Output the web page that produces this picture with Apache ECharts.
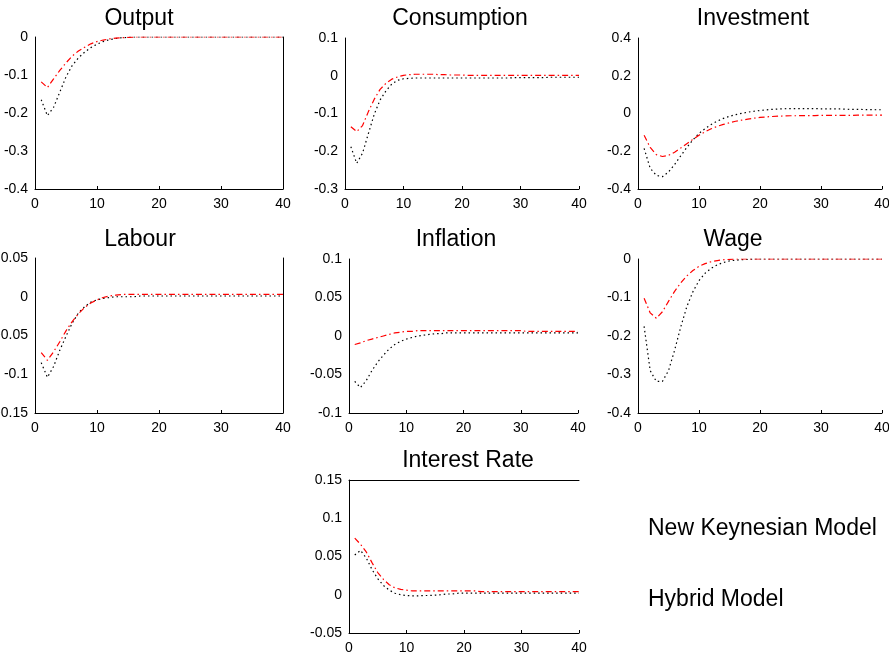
<!DOCTYPE html>
<html>
<head>
<meta charset="utf-8">
<script src="https://cdn.jsdelivr.net/npm/echarts@6/dist/echarts.min.js"></script>
<style>html,body{margin:0;padding:0;background:#fff}#c{width:889px;height:661px}</style>
</head>
<body>
<div id="c"></div>
<script>
// Periods 1..40
const periods = [1,2,3,4,5,6,7,8,9,10,11,12,13,14,15,16,17,18,19,20,21,22,23,24,25,26,27,28,29,30,31,32,33,34,35,36,37,38,39,40];
const seriesNames = ['New Keynesian Model', 'Hybrid Model'];
const panelTitles = ['Output','Consumption','Investment','Labour','Inflation','Wage','Interest Rate'];
const xTicks = [0,10,20,30,40];

const outputNK = [-0.165,-0.207,-0.185,-0.145,-0.105,-0.075,-0.055,-0.04,-0.028,-0.019,-0.012,-0.007,-0.004,-0.002,-0.001,0,0,0,0,0,0,0,0,0,0,0,0,0,0,0,0,0,0,0,0,0,0,0,0,0];
const outputHY = [-0.118,-0.133,-0.11,-0.088,-0.068,-0.05,-0.037,-0.027,-0.018,-0.012,-0.008,-0.005,-0.003,-0.002,-0.001,0,0,0,0,0,0,0,0,0,0,0,0,0,0,0,0,0,0,0,0,0,0,0,0,0];

const consNK = [-0.188,-0.232,-0.205,-0.153,-0.102,-0.064,-0.04,-0.022,-0.012,-0.008,-0.007,-0.006,-0.006,-0.006,-0.006,-0.006,-0.006,-0.006,-0.006,-0.006,-0.006,-0.006,-0.006,-0.006,-0.006,-0.006,-0.006,-0.006,-0.005,-0.005,-0.005,-0.005,-0.005,-0.005,-0.004,-0.004,-0.004,-0.004,-0.004,-0.004];
const consHY = [-0.135,-0.148,-0.132,-0.095,-0.062,-0.036,-0.02,-0.009,-0.003,0.001,0.003,0.004,0.004,0.004,0.004,0.003,0.003,0.002,0.002,0.002,0.001,0.001,0.001,0.001,0.001,0.001,0.001,0.001,0.001,0.001,0.001,0.001,0.001,0.001,0.001,0.001,0.001,0.001,0.001,0.001];

const invNK = [-0.185,-0.29,-0.328,-0.335,-0.31,-0.27,-0.225,-0.18,-0.14,-0.105,-0.08,-0.058,-0.04,-0.026,-0.015,-0.006,0.001,0.007,0.012,0.016,0.019,0.022,0.024,0.025,0.026,0.026,0.026,0.026,0.026,0.025,0.025,0.024,0.024,0.023,0.022,0.022,0.021,0.021,0.02,0.02];
const invHY = [-0.115,-0.18,-0.218,-0.228,-0.222,-0.205,-0.183,-0.16,-0.137,-0.115,-0.097,-0.081,-0.068,-0.058,-0.049,-0.041,-0.035,-0.03,-0.025,-0.021,-0.018,-0.016,-0.014,-0.013,-0.012,-0.012,-0.011,-0.011,-0.011,-0.01,-0.01,-0.01,-0.01,-0.01,-0.01,-0.009,-0.009,-0.009,-0.009,-0.009];

const labNK = [-0.085,-0.104,-0.09,-0.069,-0.051,-0.034,-0.021,-0.013,-0.007,-0.004,-0.002,-0.001,0,0,0,0,0.001,0.001,0.001,0.001,0.001,0.001,0.001,0.001,0.001,0.001,0.001,0.001,0.001,0.001,0.001,0.001,0.001,0.001,0.001,0.001,0.001,0.001,0.001,0.001];
const labHY = [-0.072,-0.082,-0.071,-0.058,-0.044,-0.032,-0.022,-0.014,-0.008,-0.004,-0.001,0.001,0.002,0.003,0.003,0.003,0.003,0.003,0.003,0.003,0.003,0.003,0.003,0.003,0.003,0.003,0.003,0.003,0.003,0.003,0.003,0.003,0.003,0.003,0.003,0.003,0.003,0.003,0.003,0.003];

const inflNK = [-0.059,-0.067,-0.058,-0.045,-0.034,-0.025,-0.017,-0.011,-0.007,-0.004,-0.002,0,0.001,0.002,0.003,0.003,0.004,0.004,0.004,0.004,0.004,0.004,0.004,0.004,0.004,0.004,0.004,0.004,0.004,0.004,0.004,0.004,0.004,0.004,0.004,0.004,0.004,0.004,0.004,0.004];
const inflHY = [-0.011,-0.009,-0.006,-0.004,-0.002,0,0.002,0.004,0.005,0.006,0.006,0.007,0.007,0.007,0.007,0.007,0.007,0.007,0.007,0.007,0.007,0.007,0.007,0.007,0.007,0.007,0.007,0.007,0.007,0.007,0.006,0.006,0.006,0.006,0.006,0.006,0.006,0.006,0.006,0.006];

const wageNK = [-0.175,-0.29,-0.318,-0.318,-0.29,-0.237,-0.177,-0.124,-0.085,-0.056,-0.037,-0.024,-0.015,-0.009,-0.005,-0.003,-0.002,-0.001,0,0,0,0,0,0,0,0,0,0,0,0,0,0,0,0,0,0,0,0,0,0];
const wageHY = [-0.102,-0.14,-0.154,-0.137,-0.11,-0.084,-0.062,-0.044,-0.03,-0.019,-0.012,-0.007,-0.004,-0.002,-0.001,0,0,0,0,0,0,0,0,0,0,0,0,0,0,0,0,0,0,0,0,0,0,0,0,0];

const rateNK = [0.052,0.058,0.048,0.033,0.021,0.012,0.006,0.002,0,-0.001,-0.0015,-0.0015,-0.001,-0.001,-0.0005,0,0.001,0.001,0.002,0.002,0.002,0.002,0.002,0.002,0.002,0.002,0.002,0.002,0.002,0.002,0.002,0.002,0.002,0.002,0.002,0.002,0.002,0.002,0.002,0.002];
const rateHY = [0.074,0.066,0.056,0.042,0.029,0.02,0.013,0.009,0.007,0.006,0.005,0.005,0.005,0.005,0.005,0.005,0.005,0.005,0.005,0.005,0.005,0.005,0.004,0.004,0.004,0.004,0.004,0.004,0.004,0.004,0.004,0.004,0.004,0.004,0.004,0.004,0.004,0.004,0.004,0.004];

const yRanges = [
  [-0.4, 0, 0.1],
  [-0.3, 0.1, 0.1],
  [-0.4, 0.4, 0.2],
  [-0.15, 0.05, 0.05],
  [-0.1, 0.1, 0.05],
  [-0.4, 0, 0.1],
  [-0.05, 0.15, 0.05]
];
const panelNK = [outputNK, consNK, invNK, labNK, inflNK, wageNK, rateNK];
const panelHY = [outputHY, consHY, invHY, labHY, inflHY, wageHY, rateHY];

// layout (px)
const grids = [
  {left: 35, top: 37, width: 248, height: 152},
  {left: 345, top: 38, width: 234, height: 151},
  {left: 638, top: 38, width: 244, height: 151},
  {left: 35, top: 258, width: 248, height: 155},
  {left: 349, top: 259, width: 229, height: 154},
  {left: 638, top: 259, width: 244, height: 154},
  {left: 349, top: 480, width: 230, height: 153}
];
const titleCenters = [134, 455, 748, 135, 451, 728, 463];
const titleTops = [2, 2, 2, 223, 223, 223, 444];
const rightLine = [true, false, false, true, false, false, false];
const topLine = [false, false, false, false, false, false, true];

const FONT = 'Liberation Sans, Arial, sans-serif';
const option = {
  backgroundColor: '#fff',
  animation: false,
  textStyle: {fontFamily: FONT},
  title: [], grid: [], xAxis: [], yAxis: [], series: [],
  legend: {
    data: seriesNames,
    orient: 'vertical',
    left: 638, top: 512,
    icon: 'none',
    itemWidth: 0, itemHeight: 24,
    itemGap: 47,
    textStyle: {fontSize: 23, color: '#000', fontFamily: FONT}
  }
};

panelTitles.forEach((name, i) => {
  option.title.push({
    text: name, left: titleCenters[i], top: titleTops[i], textAlign: 'center',
    textStyle: {fontSize: 23, fontWeight: 'normal', color: '#000', fontFamily: FONT}
  });
  option.grid.push(Object.assign({containLabel: false, outerBoundsMode: 'none'}, grids[i]));
  const xi = option.xAxis.length;
  option.xAxis.push({
    type: 'value', gridIndex: i, min: 0, max: 40, interval: 10,
    axisLine: {show: true, onZero: false, lineStyle: {color: '#000', width: 1}},
    axisTick: {show: true, inside: true, length: 3, lineStyle: {color: '#000'}},
    axisLabel: {color: '#000', fontSize: 14, margin: 8, fontFamily: FONT},
    splitLine: {show: false}
  });
  if (topLine[i]) {
    option.xAxis.push({
      type: 'value', gridIndex: i, position: 'top', min: 0, max: 40, interval: 10,
      axisLine: {show: true, onZero: false, lineStyle: {color: '#000', width: 1}},
      axisTick: {show: false}, axisLabel: {show: false}, splitLine: {show: false}
    });
  }
  const r = yRanges[i];
  const yi = option.yAxis.length;
  option.yAxis.push({
    type: 'value', gridIndex: i, min: r[0], max: r[1], interval: r[2],
    axisLine: {show: true, onZero: false, lineStyle: {color: '#000', width: 1}},
    axisTick: {show: false},
    axisLabel: {color: '#000', fontSize: 14, margin: 7, fontFamily: FONT},
    splitLine: {show: false}
  });
  if (rightLine[i]) {
    option.yAxis.push({
      type: 'value', gridIndex: i, position: 'right', min: r[0], max: r[1], interval: r[2],
      axisLine: {show: true, onZero: false, lineStyle: {color: '#000', width: 1}},
      axisTick: {show: false}, axisLabel: {show: false}, splitLine: {show: false}
    });
  }
  option.series.push({
    name: seriesNames[0], type: 'line', xAxisIndex: xi, yAxisIndex: yi,
    data: periods.map((p, k) => [p, panelNK[i][k]]),
    showSymbol: false, symbol: 'none', smooth: false,
    lineStyle: {color: '#000', width: 1.2, type: [1.5, 3]},
    itemStyle: {color: '#000'}
  });
  option.series.push({
    name: seriesNames[1], type: 'line', xAxisIndex: xi, yAxisIndex: yi,
    data: periods.map((p, k) => [p, panelHY[i][k]]),
    showSymbol: false, symbol: 'none', smooth: false,
    lineStyle: {color: '#ff0000', width: 1.2, type: [6, 3, 1.5, 3]},
    itemStyle: {color: '#ff0000'}
  });
});

const chart = echarts.init(document.getElementById('c'));
chart.setOption(option);
</script>
</body>
</html>
